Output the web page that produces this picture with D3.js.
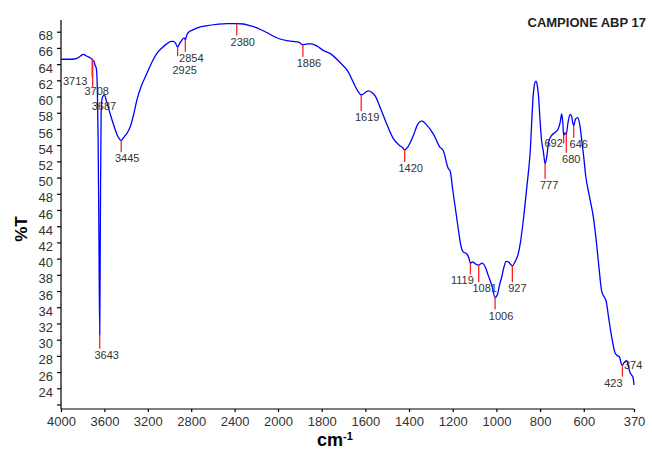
<!DOCTYPE html>
<html>
<head>
<meta charset="utf-8">
<script src="https://cdn.jsdelivr.net/npm/d3@7"></script>
<style>
  body { margin: 0; background: #fff; }
  #graph { width: 652px; height: 449px; }
  text { font-family: "Liberation Sans", Arial, sans-serif; }
</style>
</head>
<body>
<div id="graph"></div>
<script>
/* spectrum: wavenumber (cm-1) and %T */
const wavenumbers = [4000, 3950, 3900, 3855, 3820, 3795, 3765, 3733, 3713, 3708, 3695, 3687, 3675, 3665, 3658, 3650, 3643, 3637, 3630, 3620, 3601, 3580, 3550, 3510, 3480, 3445, 3420, 3390, 3364, 3330, 3302, 3260, 3210, 3160, 3118, 3070, 3026, 2985, 2965, 2945, 2925, 2905, 2888, 2870, 2862, 2854, 2840, 2827, 2790, 2749, 2650, 2565, 2475, 2380, 2320, 2258, 2200, 2166, 2104, 2050, 1991, 1960, 1930, 1905, 1886, 1865, 1846, 1820, 1793, 1760, 1716, 1680, 1655, 1635, 1619, 1600, 1587, 1570, 1556, 1530, 1502, 1472, 1445, 1430, 1420, 1405, 1380, 1360, 1342, 1320, 1289, 1260, 1243, 1220, 1212, 1200, 1182, 1170, 1164, 1151, 1136, 1125, 1119, 1110, 1103, 1093, 1081, 1065, 1050, 1037, 1020, 1006, 995, 985, 976, 965, 956, 945, 935, 927, 915, 900, 890, 877, 860, 846, 831, 825, 819, 813, 808, 800, 793, 785, 777, 770, 760, 747, 730, 717, 708, 701, 696, 692, 686, 680, 672, 663, 656, 650, 646, 638, 628, 618, 609, 600, 591, 575, 556, 540, 530, 518, 505, 498, 485, 470, 457, 445, 437, 428, 423, 415, 403, 395, 388, 380, 374, 370];
const transmittance = [64.6, 64.6, 64.6, 64.7, 65.0, 65.2, 65.0, 64.8, 64.6, 64.5, 64.3, 63.9, 63.5, 61.0, 55.0, 42.0, 30.6, 45.0, 58.0, 59.8, 60.2, 59.4, 58.0, 56.3, 55.2, 54.6, 55.0, 55.5, 56.2, 57.8, 59.5, 61.3, 62.8, 64.3, 65.3, 66.0, 66.5, 66.8, 66.8, 66.6, 66.1, 66.6, 66.9, 67.2, 67.2, 67.0, 67.6, 67.9, 68.2, 68.45, 68.75, 68.9, 69.0, 69.0, 68.95, 68.75, 68.5, 68.3, 67.9, 67.5, 67.1, 66.9, 66.8, 66.7, 66.4, 66.5, 66.5, 66.2, 65.7, 65.3, 64.2, 63.1, 61.75, 60.7, 60.2, 60.5, 60.7, 60.5, 60.1, 58.5, 56.6, 54.8, 54.0, 53.7, 53.4, 53.8, 55.2, 56.6, 57.0, 56.5, 55.4, 53.8, 53.3, 51.1, 50.85, 48.5, 45.1, 42.8, 41.8, 40.8, 40.6, 40.0, 39.4, 39.6, 39.5, 39.3, 39.2, 39.45, 38.9, 37.9, 36.6, 35.2, 35.6, 36.8, 37.7, 39.0, 39.65, 39.6, 39.3, 39.1, 39.6, 40.6, 42.0, 44.7, 49.0, 52.9, 60.3, 61.6, 61.9, 61.4, 60.3, 57.0, 54.55, 53.2, 51.7, 52.5, 54.5, 55.2, 55.6, 56.0, 56.8, 57.85, 56.8, 55.2, 55.5, 55.4, 56.8, 57.8, 57.6, 56.7, 56.4, 57.2, 57.4, 56.5, 54.55, 52.5, 50.2, 47.8, 45.1, 41.5, 38.8, 36.0, 35.2, 34.8, 32.5, 30.0, 28.4, 28.0, 27.9, 27.0, 26.8, 27.2, 27.4, 26.6, 25.95, 25.6, 25.3, 24.4];

/* marked peaks */
const peaks = [3713, 3708, 3687, 3643, 3445, 2925, 2854, 2380, 1886, 1619, 1420, 1119, 1081, 1006, 927, 777, 692, 680, 646, 423, 374];

/* tick labels */
const xTicks = [4000, 3600, 3200, 2800, 2400, 2000, 1800, 1600, 1400, 1200, 1000, 800, 600, 370];
const yTicks = [22, 24, 26, 28, 30, 32, 34, 36, 38, 40, 42, 44, 46, 48, 50, 52, 54, 56, 58, 60, 62, 64, 66, 68];

const title = "CAMPIONE ABP 17";

window.addEventListener("DOMContentLoaded", main)

function main() {
    const W = 652, H = 449;
    const svg = d3.select("#graph").append("svg").attr("width", W).attr("height", H)

    /* x scale is compressed above 2000 cm-1 */
    const x = d3.scaleLinear().domain([4000, 2000, 370]).range([61, 278, 634])
    const y = d3.scaleLinear().domain([22, 68]).range([404.5, 31.7])

    /* label tweaks for crowded peaks: [line length, dx, dy] */
    const nudge = {
        3713: [18, -17, 8], 3708: [27, 4, 8], 3687: [0, 9, 45], 3643: [14, 7, 10],
        2925: [9, 7, 18], 1619: [16, 6, 10], 1119: [11, -8, 10], 1081: [17, 6, 10],
        927: [16, 5, 10], 777: [15, 4, 10], 692: [8, -10, 4], 680: [19, 5, 10],
        646: [12, 5, 10], 423: [11, -9, 10], 374: [0, 0, -9]
    }

    const pts = wavenumbers.map((w, i) => [w, transmittance[i]])
    const tAt = w => {
        const i = wavenumbers.findIndex(v => v <= w)
        if (i <= 0) return transmittance[Math.max(i, 0)]
        const a = wavenumbers[i - 1], b = wavenumbers[i]
        const t = (a - w) / (a - b)
        return transmittance[i - 1] + t * (transmittance[i] - transmittance[i - 1])
    }

    /* axes */
    const xAxis = d3.axisBottom(x).tickValues(xTicks).tickSize(3).tickSizeOuter(0).tickPadding(5)
        .tickFormat(d3.format("d"))
    const gx = svg.append("g").attr("transform", "translate(0,409)").call(xAxis)
    gx.select(".domain").attr("d", "M61,0H634")

    const yAxis = d3.axisLeft(y).tickValues(yTicks).tickSize(4).tickSizeOuter(0).tickPadding(4)
        .tickFormat(d => d == 22 ? "" : d)
    const gy = svg.append("g").attr("transform", "translate(61,0)").call(yAxis)
    gy.select(".domain").attr("d", "M0,20V409")

    svg.selectAll(".tick text").style("font-size", "13px").attr("fill", "#333")
    gy.selectAll(".tick text").attr("dy", "0.62em")
    svg.selectAll(".domain, .tick line").attr("stroke", "#000").attr("stroke-width", 1.2)

    /* spectrum */
    const line = d3.line().x(d => x(d[0])).y(d => y(d[1])).curve(d3.curveMonotoneX)
    svg.append("path").datum(pts)
        .attr("d", line)
        .attr("fill", "none")
        .attr("stroke", "#0000ff")
        .attr("stroke-width", 1.3)

    /* peak markers */
    const pk = svg.append("g").selectAll("g").data(peaks).enter().append("g")
    pk.append("line")
        .attr("x1", d => x(d)).attr("x2", d => x(d))
        .attr("y1", d => y(tAt(d)))
        .attr("y2", d => y(tAt(d)) + (nudge[d] ? nudge[d][0] : 12))
        .attr("stroke", "#ff2020")
        .attr("stroke-width", 1.3)
    pk.append("text")
        .attr("x", d => x(d) + (nudge[d] ? nudge[d][1] : 6))
        .attr("y", d => y(tAt(d)) + (nudge[d] ? nudge[d][0] + nudge[d][2] : 22))
        .attr("text-anchor", "middle")
        .style("font-size", "11px")
        .attr("fill", "#333")
        .text(d => d)

    /* titles */
    svg.append("text")
        .attr("transform", "translate(27,229) rotate(-90)")
        .attr("text-anchor", "middle")
        .style("font-size", "17px").style("font-weight", "bold")
        .text("%T")

    const xl = svg.append("text")
        .attr("x", 317).attr("y", 446)
        .style("font-size", "18px").style("font-weight", "bold")
    xl.append("tspan").text("cm")
    xl.append("tspan").attr("dy", -6).style("font-size", "11px").text("-1")

    svg.append("text")
        .attr("x", 646).attr("y", 26.5)
        .attr("text-anchor", "end")
        .style("font-size", "13px").style("font-weight", "bold")
        .attr("fill", "#222")
        .text(title)
}
</script>
</body>
</html>
